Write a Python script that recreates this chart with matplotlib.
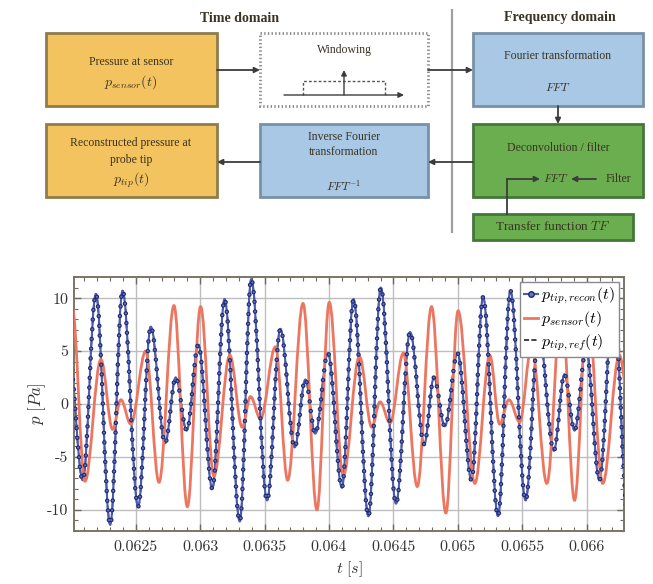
import matplotlib
matplotlib.use('Agg')
import matplotlib.pyplot as plt
from matplotlib.path import Path
from matplotlib.patches import PathPatch, Rectangle
from matplotlib.lines import Line2D
from matplotlib.ticker import MultipleLocator, FuncFormatter

plt.rcParams['mathtext.fontset'] = 'cm'
plt.rcParams['font.family'] = ['cmr10', 'DejaVu Serif']
plt.rcParams['axes.formatter.use_mathtext'] = True
plt.rcParams['lines.scale_dashes'] = False

# extrema of the reconstructed tip pressure (blue)
t_recon = [0.061979, 0.062088, 0.062190, 0.062301, 0.062397, 0.062518, 0.062616,
           0.062727, 0.062810, 0.062895, 0.062985, 0.063094, 0.063189, 0.063307,
           0.063396, 0.063519, 0.063622, 0.063733, 0.063816, 0.063893, 0.063992,
           0.064100, 0.064190, 0.064306, 0.064402, 0.064520, 0.064629, 0.064739,
           0.064814, 0.064899, 0.064998, 0.065106, 0.065196, 0.065312, 0.065408,
           0.065526, 0.065627, 0.065745, 0.065828, 0.065906, 0.065996, 0.066099,
           0.066207, 0.066324]
p_recon = [5.0, -7.2, 10.4, -11.4, 10.7, -9.7, 7.3, -3.7, 2.5, -2.5, 5.6, -8.0,
           9.9, -11.1, 11.8, -9.1, 7.1, -4.1, 2.3, -2.8, 4.8, -7.9, 9.9, -10.6,
           11.0, -9.4, 6.8, -3.8, 2.5, -2.1, 4.8, -7.2, 10.1, -10.6, 10.7, -9.1,
           7.0, -4.4, 2.8, -2.5, 5.2, -7.2, 10.0, -11.0]

# extrema of the sensor pressure (red)
t_sensor = [0.062005, 0.062105, 0.062229, 0.062320, 0.062384, 0.062461, 0.062577,
            0.062680, 0.062796, 0.062900, 0.063003, 0.063106, 0.063230, 0.063326,
            0.063390, 0.063468, 0.063584, 0.063679, 0.063798, 0.063906, 0.064002,
            0.064110, 0.064236, 0.064332, 0.064396, 0.064474, 0.064577, 0.064685,
            0.064796, 0.064907, 0.065002, 0.065132, 0.065248, 0.065325, 0.065397,
            0.065480, 0.065573, 0.065691, 0.065805, 0.065906, 0.066006, 0.066125,
            0.066254, 0.066347]
p_sensor = [9.2, -7.3, 4.2, -2.4, 0.4, -1.9, 5.0, -7.4, 9.3, -9.7, 9.2, -6.8,
            4.6, -2.2, 0.7, -1.4, 5.4, -7.2, 9.5, -10.0, 9.6, -6.8, 4.5, -2.2,
            0.2, -1.8, 4.8, -7.8, 9.2, -10.3, 8.8, -7.5, 4.6, -1.9, 0.4, -1.7,
            5.5, -7.5, 9.3, -9.1, 9.2, -7.5, 4.6, -2.2]

legend_labels = [r'$p_{tip,recon}(t)$', r'$p_{sensor}(t)$', r'$p_{tip,ref}(t)$']

c_blue = '#4a5cb4'
c_navy = '#202a6c'
c_dot = '#6272c8'
c_red = '#ec765f'


def smooth_path(t, p, a=0.3634):
    # cubic segments with flat tangents at every extremum
    verts = [(t[0], p[0])]
    codes = [Path.MOVETO]
    for i in range(len(t) - 1):
        d = t[i + 1] - t[i]
        verts += [(t[i] + a * d, p[i]), (t[i + 1] - a * d, p[i + 1]), (t[i + 1], p[i + 1])]
        codes += [Path.CURVE4] * 3
    return Path(verts, codes)


fig = plt.figure(figsize=(6.53, 5.84), dpi=100)

#%% block diagram
axd = fig.add_axes([0, 1 - 255 / 584, 1, 255 / 584])
axd.set_xlim(0, 653)
axd.set_ylim(255, 0)
axd.axis('off')

orange, orange_e = '#f3c35f', '#8f7c4c'
lblue, lblue_e = '#a9c8e6', '#7891a8'
green, green_e = '#6aae4f', '#44773a'
txt = '#3a3322'
dfont = dict(family=['Liberation Serif', 'DejaVu Serif'], fontsize=8.5, color=txt,
             ha='center', va='center')

boxes = [
    ((46, 33, 217, 106), orange, orange_e, '-'),
    ((260, 33, 428, 106), 'white', '#8a8a8a', ':'),
    ((473, 33, 643, 106), lblue, lblue_e, '-'),
    ((473, 124, 643, 197), green, green_e, '-'),
    ((473, 214, 633, 240), green, green_e, '-'),
    ((260, 124, 428, 197), lblue, lblue_e, '-'),
    ((46, 124, 217, 197), orange, orange_e, '-'),
]
for (x0, y0, x1, y1), fc, ec, ls in boxes:
    axd.add_patch(Rectangle((x0, y0), x1 - x0, y1 - y0, facecolor=fc, edgecolor=ec,
                            lw=2.0, ls=ls))

axd.text(240, 18, 'Time domain', fontweight='bold', **{**dfont, 'fontsize': 10})
axd.text(560, 18, 'Frequency domain', fontweight='bold', **{**dfont, 'fontsize': 10})
axd.plot([452, 452], [10, 232], color='#a0a0a0', lw=1.6)

axd.text(131, 62, 'Pressure at sensor', **dfont)
axd.text(131, 82, r'$p_{sensor}(t)$', **{**dfont, 'fontsize': 10})
axd.text(344, 50, 'Windowing', **dfont)
axd.text(558, 56, 'Fourier transformation', **dfont)
axd.text(558, 88, r'$FFT$', **dfont)
axd.text(558, 148, 'Deconvolution / filter', **dfont)
axd.text(556, 179, r'$FFT$', **dfont)
axd.text(618, 179, 'Filter', **dfont)
axd.text(553, 227, r'Transfer function $TF$', **{**dfont, 'fontsize': 9.5})
axd.text(344, 137, 'Inverse Fourier', **dfont)
axd.text(344, 152, 'transformation', **dfont)
axd.text(344, 186, r'$FFT^{-1}$', **dfont)
axd.text(131, 143, 'Reconstructed pressure at', **dfont)
axd.text(131, 160, 'probe tip', **dfont)
axd.text(131, 180, r'$p_{tip}(t)$', **{**dfont, 'fontsize': 10})

arr = dict(arrowstyle='-|>', color='#3c3c3c', lw=1.3, mutation_scale=8, shrinkA=0, shrinkB=0)
for start, end in [((217, 70), (260, 70)), ((428, 70), (473, 70)), ((558, 106), (558, 124)),
                   ((473, 162), (428, 162)), ((260, 162), (217, 162)),
                   ((507, 179), (540, 179)), ((596, 179), (571, 179))]:
    axd.annotate('', xy=end, xytext=start, arrowprops=arr)
axd.plot([507, 507], [214, 179], color='#3c3c3c', lw=1.3)

# little window sketch
axd.annotate('', xy=(404, 95), xytext=(284, 95), arrowprops={**arr, 'lw': 1.0})
axd.annotate('', xy=(344, 70), xytext=(344, 95), arrowprops={**arr, 'lw': 1.0})
axd.plot([303, 303, 385, 385], [95, 81, 81, 95], color='#555555', lw=1.0, ls=(0, (2, 1.5)))

#%% time signal plot
ax = fig.add_axes([74 / 653, 1 - 531 / 584, 550 / 653, 254 / 584])
ax.set_xlim(0.06202, 0.06629)
ax.set_ylim(-12, 12)

ax.add_patch(PathPatch(smooth_path(t_recon, p_recon), facecolor='none', edgecolor='#222222',
                       lw=1.2, ls='--', zorder=1.5))
ax.add_patch(PathPatch(smooth_path(t_recon, p_recon), facecolor='none', edgecolor=c_blue,
                       lw=1.5, zorder=2))
ax.add_patch(PathPatch(smooth_path(t_sensor, p_sensor), facecolor='none', edgecolor=c_red,
                       lw=2.0, zorder=3))
ax.add_patch(PathPatch(smooth_path(t_recon, p_recon), facecolor='none', edgecolor=c_navy,
                       lw=3.3, ls=(0, (0.001, 7.0)), capstyle='round', zorder=4))
ax.add_patch(PathPatch(smooth_path(t_recon, p_recon), facecolor='none', edgecolor=c_dot,
                       lw=1.6, ls=(0, (0.001, 7.0)), capstyle='round', zorder=4.5))

ax.xaxis.set_major_locator(MultipleLocator(0.0005))
ax.xaxis.set_minor_locator(MultipleLocator(0.0001))
ax.yaxis.set_major_locator(MultipleLocator(5))
ax.yaxis.set_minor_locator(MultipleLocator(1))
ax.xaxis.set_major_formatter(FuncFormatter(lambda v, _: ('%.4f' % v).rstrip('0')))
ax.yaxis.set_major_formatter(FuncFormatter(lambda v, _: '%g' % v))
ax.grid(True, which='major', color='#bdbdbd', lw=1.0)
ax.set_axisbelow(True)
ax.tick_params(which='both', direction='in', top=True, right=True, colors='#6f6a60',
               labelcolor='#333333', labelsize=11.5)
ax.tick_params(which='major', length=5, width=1.0)
ax.tick_params(which='minor', length=3, width=0.8)
ax.tick_params(axis='x', pad=7)
ax.tick_params(axis='y', pad=4)
for s in ax.spines.values():
    s.set_color('#7a7468')
    s.set_linewidth(1.4)

ax.set_xlabel(r'$t\ [s]$', fontsize=11.5, color='#333333')
ax.set_ylabel(r'$p\ [Pa]$', fontsize=12, color='#333333')
ax.xaxis.set_label_coords(0.5, -0.112)
ax.yaxis.set_label_coords(-0.047, 0.5)

handles = [Line2D([], [], color=c_blue, lw=1.5, marker='o', ms=4, mfc=c_dot, mec=c_navy),
           Line2D([], [], color=c_red, lw=2.0),
           Line2D([], [], color='#222222', lw=1.2, ls='--')]
leg = ax.legend(handles, legend_labels, loc='upper right', fontsize=11.5, handlelength=0.9,
                handletextpad=0.2, borderaxespad=0.3, borderpad=0.25, labelspacing=0.2,
                fancybox=False, framealpha=1, edgecolor='#8a8a8a')
leg.get_frame().set_linewidth(1.0)
leg.set_zorder(10)

fig.savefig('out.png', dpi=100)
